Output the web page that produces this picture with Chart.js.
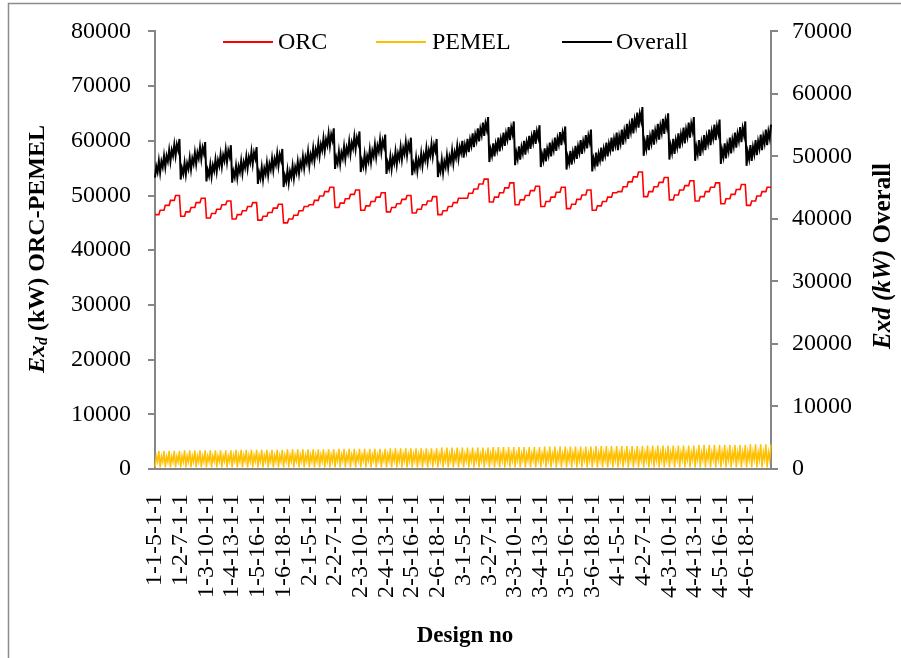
<!DOCTYPE html>
<html>
<head>
<meta charset="utf-8">
<script src="https://cdn.jsdelivr.net/npm/chart.js@4.4.1/dist/chart.umd.min.js"></script>
<style>
html,body{margin:0;padding:0;background:#fff;}
#wrap{width:901px;height:658px;position:relative;}
canvas{display:block;}
</style>
</head>
<body>
<div id="wrap"><canvas id="c" width="901" height="658"></canvas></div>
<script>
// ---- tick labels (one per design group) ----
const tickLabels = [
 "1-1-5-1-1","1-2-7-1-1","1-3-10-1-1","1-4-13-1-1","1-5-16-1-1","1-6-18-1-1",
 "2-1-5-1-1","2-2-7-1-1","2-3-10-1-1","2-4-13-1-1","2-5-16-1-1","2-6-18-1-1",
 "3-1-5-1-1","3-2-7-1-1","3-3-10-1-1","3-4-13-1-1","3-5-16-1-1","3-6-18-1-1",
 "4-1-5-1-1","4-2-7-1-1","4-3-10-1-1","4-4-13-1-1","4-5-16-1-1","4-6-18-1-1"
];
const designsPerGroup = 20;

// ---- ORC exergy destruction (kW, left axis) ----
const orc = [
 46500,46500,46500,46500,47300,47300,47300,47300,48200,48200,48200,48200,49100,49100,49100,49100,50000,50000,50000,50000,
 46200,46200,46200,46200,47000,47000,47000,47000,47800,47800,47800,47800,48700,48700,48700,48700,49500,49500,49500,49500,
 45900,45900,45900,45900,46700,46700,46700,46700,47500,47500,47500,47500,48300,48300,48300,48300,49000,49000,49000,49000,
 45700,45700,45700,45700,46500,46500,46500,46500,47200,47200,47200,47200,48000,48000,48000,48000,48700,48700,48700,48700,
 45500,45500,45500,45500,46200,46200,46200,46200,46900,46900,46900,46900,47700,47700,47700,47700,48400,48400,48400,48400,
 45000,45000,45000,45000,45700,45700,45700,45700,46400,46400,46400,46400,47200,47200,47200,47200,48000,48000,48000,48000,
 48300,48300,48300,48300,49100,49100,49100,49100,49900,49900,49900,49900,50700,50700,50700,50700,51500,51500,51500,51500,
 47800,47800,47800,47800,48600,48600,48600,48600,49400,49400,49400,49400,50200,50200,50200,50200,51000,51000,51000,51000,
 47300,47300,47300,47300,48100,48100,48100,48100,48900,48900,48900,48900,49700,49700,49700,49700,50500,50500,50500,50500,
 47000,47000,47000,47000,47800,47800,47800,47800,48500,48500,48500,48500,49300,49300,49300,49300,50000,50000,50000,50000,
 46800,46800,46800,46800,47500,47500,47500,47500,48300,48300,48300,48300,49000,49000,49000,49000,49800,49800,49800,49800,
 46500,46500,46500,46500,47200,47200,47200,47200,48000,48000,48000,48000,48700,48700,48700,48700,49500,49500,49500,49500,
 49500,49500,49500,49500,50400,50400,50400,50400,51200,51200,51200,51200,52100,52100,52100,52100,53000,53000,53000,53000,
 48800,48800,48800,48800,49700,49700,49700,49700,50500,50500,50500,50500,51400,51400,51400,51400,52300,52300,52300,52300,
 48300,48300,48300,48300,49200,49200,49200,49200,50000,50000,50000,50000,50900,50900,50900,50900,51700,51700,51700,51700,
 48000,48000,48000,48000,48900,48900,48900,48900,49700,49700,49700,49700,50600,50600,50600,50600,51500,51500,51500,51500,
 47600,47600,47600,47600,48400,48400,48400,48400,49300,49300,49300,49300,50100,50100,50100,50100,51000,51000,51000,51000,
 47300,47300,47300,47300,48100,48100,48100,48100,48900,48900,48900,48900,49700,49700,49700,49700,50500,50500,50500,50500,
 50700,50700,50700,50700,51600,51600,51600,51600,52500,52500,52500,52500,53400,53400,53400,53400,54300,54300,54300,54300,
 49800,49800,49800,49800,50700,50700,50700,50700,51600,51600,51600,51600,52400,52400,52400,52400,53300,53300,53300,53300,
 49200,49200,49200,49200,50100,50100,50100,50100,51000,51000,51000,51000,51800,51800,51800,51800,52700,52700,52700,52700,
 49000,49000,49000,49000,49800,49800,49800,49800,50700,50700,50700,50700,51500,51500,51500,51500,52300,52300,52300,52300,
 48500,48500,48500,48500,49400,49400,49400,49400,50200,50200,50200,50200,51100,51100,51100,51100,52000,52000,52000,52000,
 48200,48200,48200,48200,49000,49000,49000,49000,49900,49900,49900,49900,50700,50700,50700,50700,51500,51500,51500,51500
];

// ---- PEMEL exergy destruction (kW, left axis) ----
const pemel = [
 300,2300,1300,3300,300,2300,1300,3300,300,2300,1300,3300,300,2300,1300,3300,300,2300,1300,3300,
 300,2400,1300,3400,300,2400,1300,3400,300,2400,1300,3400,300,2400,1300,3400,300,2400,1300,3400,
 300,2400,1400,3400,300,2400,1400,3400,300,2400,1400,3400,300,2400,1400,3400,300,2400,1400,3400,
 300,2500,1400,3500,300,2500,1400,3500,300,2500,1400,3500,300,2500,1400,3500,300,2500,1400,3500,
 300,2500,1400,3500,300,2500,1400,3500,300,2500,1400,3500,300,2500,1400,3500,300,2500,1400,3500,
 300,2500,1400,3600,300,2500,1400,3600,300,2500,1400,3600,300,2500,1400,3600,300,2500,1400,3600,
 300,2600,1400,3600,300,2600,1400,3600,300,2600,1400,3600,300,2600,1400,3600,300,2600,1400,3600,
 300,2600,1500,3700,300,2600,1500,3700,300,2600,1500,3700,300,2600,1500,3700,300,2600,1500,3700,
 300,2600,1500,3700,300,2600,1500,3700,300,2600,1500,3700,300,2600,1500,3700,300,2600,1500,3700,
 300,2700,1500,3800,300,2700,1500,3800,300,2700,1500,3800,300,2700,1500,3800,300,2700,1500,3800,
 300,2700,1500,3800,300,2700,1500,3800,300,2700,1500,3800,300,2700,1500,3800,300,2700,1500,3800,
 300,2700,1500,3900,300,2700,1500,3900,300,2700,1500,3900,300,2700,1500,3900,300,2700,1500,3900,
 300,2700,1500,3900,300,2700,1500,3900,300,2700,1500,3900,300,2700,1500,3900,300,2700,1500,3900,
 300,2800,1500,4000,300,2800,1500,4000,300,2800,1500,4000,300,2800,1500,4000,300,2800,1500,4000,
 300,2800,1600,4000,300,2800,1600,4000,300,2800,1600,4000,300,2800,1600,4000,300,2800,1600,4000,
 300,2800,1600,4100,300,2800,1600,4100,300,2800,1600,4100,300,2800,1600,4100,300,2800,1600,4100,
 300,2900,1600,4100,300,2900,1600,4100,300,2900,1600,4100,300,2900,1600,4100,300,2900,1600,4100,
 300,2900,1600,4200,300,2900,1600,4200,300,2900,1600,4200,300,2900,1600,4200,300,2900,1600,4200,
 300,2900,1600,4200,300,2900,1600,4200,300,2900,1600,4200,300,2900,1600,4200,300,2900,1600,4200,
 300,3000,1600,4300,300,3000,1600,4300,300,3000,1600,4300,300,3000,1600,4300,300,3000,1600,4300,
 300,3000,1700,4300,300,3000,1700,4300,300,3000,1700,4300,300,3000,1700,4300,300,3000,1700,4300,
 300,3000,1700,4400,300,3000,1700,4400,300,3000,1700,4400,300,3000,1700,4400,300,3000,1700,4400,
 300,3100,1700,4400,300,3100,1700,4400,300,3100,1700,4400,300,3100,1700,4400,300,3100,1700,4400,
 300,3100,1700,4500,300,3100,1700,4500,300,3100,1700,4500,300,3100,1700,4500,300,3100,1700,4500
];

// ---- Overall exergy destruction (kW, right axis) ----
const overall = [
 46600,48400,47500,49300,47400,49200,48300,50100,48300,50100,49200,51000,49200,51000,50100,51900,50100,51900,51000,52800,
 46300,48100,47200,49000,47100,48900,48000,49800,47900,49700,48800,50600,48800,50600,49700,51500,49600,51400,50500,52300,
 46000,47800,46900,48700,46800,48600,47700,49500,47600,49400,48500,50300,48400,50200,49300,51100,49100,50900,50000,51800,
 45800,47600,46700,48500,46600,48400,47500,49300,47300,49100,48200,50000,48100,49900,49000,50800,48800,50600,49700,51500,
 45600,47400,46500,48300,46300,48100,47200,49000,47000,48800,47900,49700,47800,49600,48700,50500,48500,50300,49400,51200,
 45100,46900,46000,47800,45800,47600,46700,48500,46500,48300,47400,49200,47300,49100,48200,50000,48100,49900,49000,50800,
 48500,50300,49400,51300,49300,51100,50200,52100,50100,51900,51000,52900,50900,52700,51800,53700,51700,53500,52600,54500,
 48000,49800,48900,50800,48800,50600,49700,51600,49600,51400,50500,52400,50400,52200,51300,53200,51200,53000,52100,54000,
 47500,49300,48400,50300,48300,50100,49200,51100,49100,50900,50000,51900,49900,51700,50800,52700,50700,52500,51600,53500,
 47200,49000,48100,50000,48000,49800,48900,50800,48700,50500,49600,51500,49500,51300,50400,52300,50200,52000,51100,53000,
 47000,48800,47900,49800,47700,49500,48600,50500,48500,50300,49400,51300,49200,51000,50100,52000,50000,51800,50900,52800,
 46700,48500,47600,49500,47400,49200,48300,50200,48200,50000,49100,51000,48900,50700,49800,51700,49700,51500,50600,52500,
 49800,51800,50800,52800,50700,52700,51700,53700,51500,53500,52500,54500,52400,54400,53400,55400,53300,55300,54300,56300,
 49100,51100,50100,52100,50000,52000,51000,53000,50800,52800,51800,53800,51700,53700,52700,54700,52600,54600,53600,55600,
 48600,50600,49600,51600,49500,51500,50500,52500,50300,52300,51300,53300,51200,53200,52200,54200,52000,54000,53000,55000,
 48300,50300,49300,51300,49200,51200,50200,52200,50000,52000,51000,53000,50900,52900,51900,53900,51800,53800,52800,54800,
 47900,49900,48900,50900,48700,50700,49700,51700,49600,51600,50600,52600,50400,52400,51400,53400,51300,53300,52300,54300,
 47600,49600,48600,50600,48400,50400,49400,51400,49200,51200,50200,52200,50000,52000,51000,53000,50800,52800,51800,53800,
 51000,53200,52100,54300,51900,54100,53000,55200,52800,55000,53900,56100,53700,55900,54800,57000,54600,56800,55700,57900,
 50100,52300,51200,53400,51000,53200,52100,54300,51900,54100,53000,55200,52700,54900,53800,56000,53600,55800,54700,56900,
 49500,51700,50600,52800,50400,52600,51500,53700,51300,53500,52400,54600,52100,54300,53200,55400,53000,55200,54100,56300,
 49300,51500,50400,52600,50100,52300,51200,53400,51000,53200,52100,54300,51800,54000,52900,55100,52600,54800,53700,55900,
 48800,51000,49900,52100,49700,51900,50800,53000,50500,52700,51600,53800,51400,53600,52500,54700,52300,54500,53400,55600,
 48500,50700,49600,51800,49300,51500,50400,52600,50200,52400,51300,53500,51000,53200,52100,54300,51800,54000,52900,55100
];

// category table: the group label on the first design of each group
const categories = [];
tickLabels.forEach(l => { categories.push(l); for (let i = 1; i < designsPerGroup; i++) categories.push(''); });

const SERIF = '"Liberation Serif", "Times New Roman", serif';
const AXIS_GRAY = '#868686';

const framePlugin = {
  id: 'frame',
  beforeDraw(chart) {
    const ctx = chart.ctx;
    ctx.save();
    ctx.fillStyle = '#fff';
    ctx.fillRect(0, 0, chart.width, chart.height);
    ctx.strokeStyle = '#8c8c8c';
    ctx.lineWidth = 1.5;
    ctx.beginPath();
    ctx.moveTo(8.5, chart.height + 2);
    ctx.lineTo(8.5, 3.5);
    ctx.lineTo(chart.width + 2, 3.5);
    ctx.stroke();
    ctx.restore();
  }
};

function drawSegments(ctx, segs, cx, cy, rot) {
  ctx.save();
  ctx.translate(cx, cy);
  ctx.rotate(rot);
  ctx.textBaseline = 'middle';
  ctx.textAlign = 'left';
  ctx.fillStyle = '#000';
  let total = 0;
  segs.forEach(s => { ctx.font = s.font; s.w = ctx.measureText(s.t).width; total += s.w; });
  let x = -total / 2;
  segs.forEach(s => { ctx.font = s.font; ctx.fillText(s.t, x, s.dy || 0); x += s.w; });
  ctx.restore();
}

const decorPlugin = {
  id: 'decor',
  afterDraw(chart) {
    const ctx = chart.ctx;
    const legendItems = [
      {ds: 0, x: 223, tx: 278},
      {ds: 1, x: 376, tx: 432},
      {ds: 2, x: 562, tx: 616}
    ];
    const ly = 42;
    ctx.save();
    ctx.font = '24px ' + SERIF;
    ctx.textBaseline = 'middle';
    ctx.textAlign = 'left';
    legendItems.forEach(it => {
      const ds = chart.data.datasets[it.ds];
      ctx.strokeStyle = ds.borderColor;
      ctx.lineWidth = 2;
      ctx.beginPath();
      ctx.moveTo(it.x, ly);
      ctx.lineTo(it.x + 50, ly);
      ctx.stroke();
      ctx.fillStyle = '#000';
      ctx.fillText(ds.label, it.tx, ly + 1);
    });
    ctx.restore();

    drawSegments(ctx, [
      {t: 'Ex', font: 'italic bold 24px ' + SERIF},
      {t: 'd', font: 'italic bold 16px ' + SERIF, dy: 5},
      {t: ' (kW) ORC-PEMEL', font: 'bold 24px ' + SERIF}
    ], 38, 249, -Math.PI / 2);
    drawSegments(ctx, [
      {t: 'Exd (kW)', font: 'italic bold 25px ' + SERIF},
      {t: ' Overall', font: 'bold 25px ' + SERIF}
    ], 884, 256, -Math.PI / 2);
    drawSegments(ctx, [
      {t: 'Design no', font: 'bold 23px ' + SERIF}
    ], 465, 636, 0);
  }
};

const plainNumber = v => String(v);

new Chart(document.getElementById('c'), {
  type: 'line',
  data: {
    labels: categories,
    datasets: [
      {label: 'ORC', data: orc, yAxisID: 'y', borderColor: '#FF0000', borderWidth: 1.6, pointRadius: 0, tension: 0, fill: false},
      {label: 'PEMEL', data: pemel, yAxisID: 'y', borderColor: '#FFC000', borderWidth: 1.5, pointRadius: 0, tension: 0, fill: false},
      {label: 'Overall', data: overall, yAxisID: 'y1', borderColor: '#000000', borderWidth: 2, pointRadius: 0, tension: 0, fill: false}
    ]
  },
  options: {
    responsive: false,
    animation: false,
    devicePixelRatio: 1,
    events: [],
    layout: {padding: {top: 27, left: 0, right: 0, bottom: 0}},
    plugins: {legend: {display: false}, tooltip: {enabled: false}, title: {display: false}},
    scales: {
      x: {
        type: 'category',
        offset: false,
        grid: {display: false},
        border: {display: true, color: AXIS_GRAY, width: 2},
        ticks: {
          autoSkip: false, maxRotation: 90, minRotation: 90, padding: 17,
          color: '#000', font: {family: SERIF, size: 24}
        },
        afterFit(s) { s.height = 189; }
      },
      y: {
        position: 'left', min: 0, max: 80000,
        ticks: {stepSize: 10000, padding: 17, color: '#000', font: {family: SERIF, size: 24}, callback: plainNumber},
        grid: {drawOnChartArea: false, drawTicks: true, tickLength: 7, color: AXIS_GRAY, lineWidth: 2},
        border: {display: true, color: AXIS_GRAY, width: 2},
        afterFit(s) { s.width = 155; }
      },
      y1: {
        position: 'right', min: 0, max: 70000,
        ticks: {stepSize: 10000, padding: 14, color: '#000', font: {family: SERIF, size: 24}, callback: plainNumber},
        grid: {drawOnChartArea: false, drawTicks: true, tickLength: 7, color: AXIS_GRAY, lineWidth: 2},
        border: {display: true, color: AXIS_GRAY, width: 2},
        afterFit(s) { s.width = 130; }
      }
    }
  },
  plugins: [framePlugin, decorPlugin]
});
</script>
</body>
</html>
